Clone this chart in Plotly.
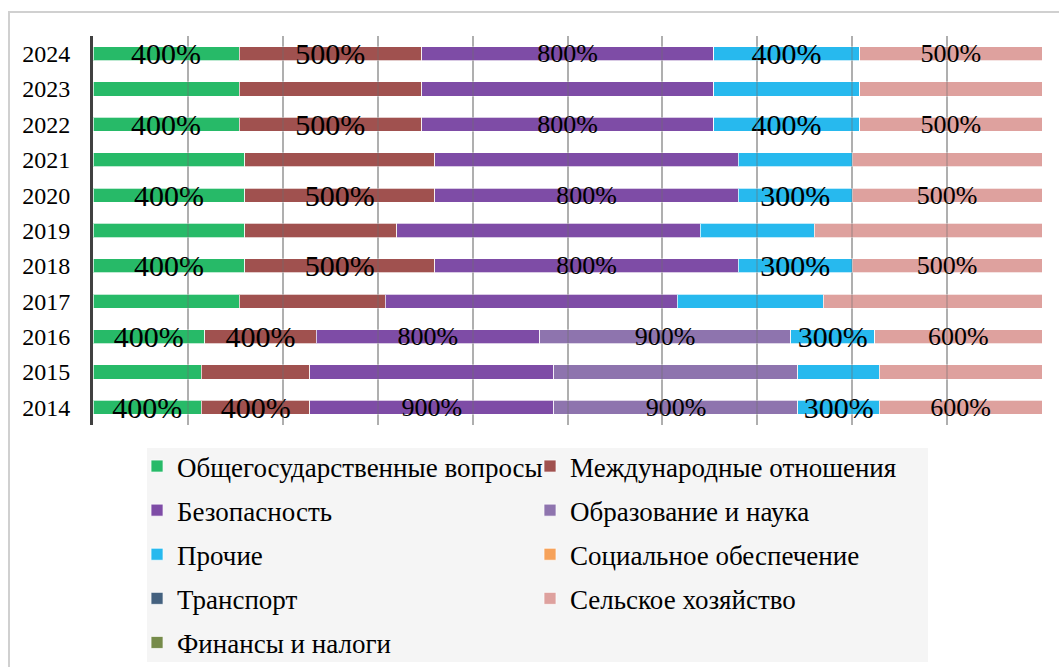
import plotly.graph_objects as go

years = ["2014", "2015", "2016", "2017", "2018", "2019", "2020", "2021", "2022", "2023", "2024"]
labeled_years = ["2014", "2016", "2018", "2020", "2022", "2024"]

series_names = [
    "Общегосударственные вопросы",
    "Международные отношения",
    "Безопасность",
    "Образование и наука",
    "Прочие",
    "Социальное обеспечение",
    "Транспорт",
    "Сельское хозяйство",
    "Финансы и налоги",
]

gen_affairs = [4, 4, 4, 4, 4, 4, 4, 4, 4, 4, 4]
intl_relations = [4, 4, 4, 4, 5, 4, 5, 5, 5, 5, 5]
security = [9, 9, 8, 8, 8, 8, 8, 8, 8, 8, 8]
education = [9, 9, 9, 0, 0, 0, 0, 0, 0, 0, 0]
other = [3, 3, 3, 4, 3, 3, 3, 3, 4, 4, 4]
social = [0, 0, 0, 0, 0, 0, 0, 0, 0, 0, 0]
transport = [0, 0, 0, 0, 0, 0, 0, 0, 0, 0, 0]
agriculture = [6, 6, 6, 6, 5, 6, 5, 5, 5, 5, 5]
finance = [0, 0, 0, 0, 0, 0, 0, 0, 0, 0, 0]

series_values = [gen_affairs, intl_relations, security, education, other,
                 social, transport, agriculture, finance]

colors = ["#27BA68", "#A0514F", "#7E4CA6", "#8E74AE", "#27B9EE",
          "#F6A25A", "#44617F", "#DEA19E", "#768B4A"]
label_sizes = [30, 30, 26, 26, 30, 26, 26, 26, 26]
# legend column for each series (two-column legend, row-major order)
legend_cols = ["legend", "legend2", "legend", "legend2", "legend",
               "legend2", "legend", "legend2", "legend"]

fig = go.Figure()
for name, vals, col, fs, lg in zip(series_names, series_values, colors, label_sizes, legend_cols):
    texts = [f"{v * 100:.0f}%" if (y in labeled_years and v > 0) else "" for y, v in zip(years, vals)]
    fig.add_trace(go.Bar(
        y=years, x=vals, name=name, orientation="h",
        marker=dict(color=col, line=dict(color="rgba(255,255,255,0.7)", width=1)),
        text=texts, textposition="inside", insidetextanchor="middle",
        textangle=0, constraintext="none",
        textfont=dict(family="Liberation Serif", size=fs, color="black"),
        legend=lg, legendgroup=name,
        hoverinfo="skip",
    ))

legend_font = dict(family="Liberation Serif", size=27, color="black")
fig.update_layout(
    width=1059, height=667,
    barmode="stack", barnorm="fraction", bargap=0.6,
    plot_bgcolor="white", paper_bgcolor="white",
    margin=dict(l=93, r=17, t=36, b=242, autoexpand=False),
    font=dict(family="Liberation Serif", color="black"),
    legend=dict(
        orientation="v", traceorder="grouped",
        x=0.0464, y=-0.0437, xanchor="left", yanchor="top",
        bgcolor="rgba(0,0,0,0)", font=legend_font,
        itemwidth=30, tracegroupgap=6,
    ),
    legend2=dict(
        orientation="v", traceorder="grouped",
        x=0.4605, y=-0.0437, xanchor="left", yanchor="top",
        bgcolor="rgba(0,0,0,0)", font=legend_font,
        itemwidth=30, tracegroupgap=6,
    ),
)
fig.update_xaxes(
    range=[0, 1], dtick=0.1, showticklabels=False,
    showgrid=True, gridcolor="#cccccc", gridwidth=2,
    ticks="inside", ticklen=389, tickwidth=2, tickcolor="rgba(110,110,110,0.3)",
    layer="above traces",
    zeroline=False, fixedrange=True,
)
fig.update_yaxes(
    type="category", categoryorder="array", categoryarray=years,
    showline=True, linecolor="#404040", linewidth=3,
    ticks="outside", ticklen=0, ticklabelstandoff=15,
    tickfont=dict(family="Liberation Serif", size=24, color="black"),
    showgrid=False, layer="above traces", fixedrange=True,
)
# outer chart border and legend background
fig.add_shape(type="rect", xref="paper", yref="paper",
              x0=-0.0885, x1=1.2, y0=-1.0, y1=1.0617,
              line=dict(color="#d0d0d0", width=2), fillcolor="rgba(0,0,0,0)", layer="below")
fig.add_shape(type="rect", xref="paper", yref="paper",
              x0=0.0569, x1=0.8799, y0=-0.609, y1=-0.0591,
              line=dict(width=0), fillcolor="#f5f5f5", layer="below")

fig.write_html("out.html", config={"displayModeBar": False},
               post_script="document.body.style.margin='0px';")
